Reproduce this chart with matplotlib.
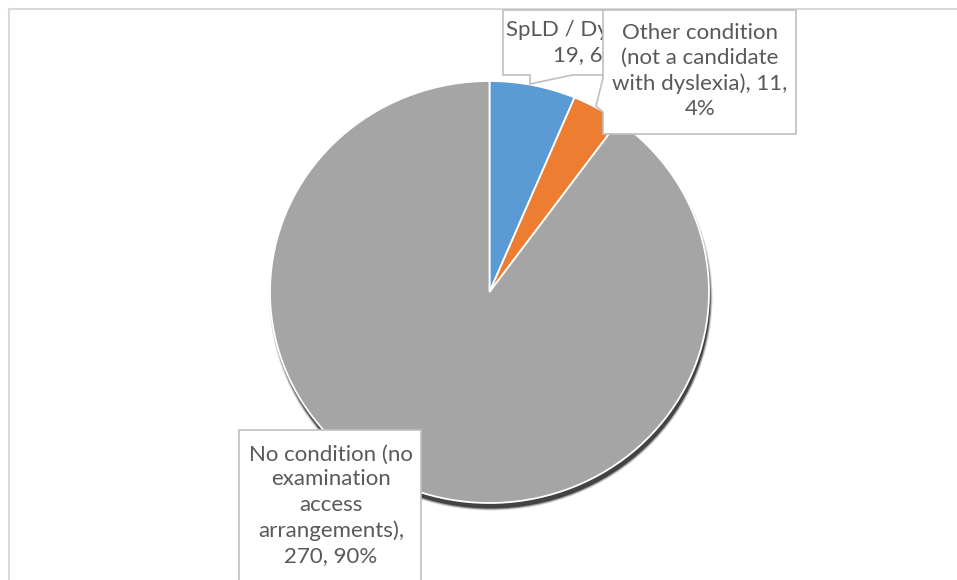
import numpy as np
import matplotlib.pyplot as plt
from matplotlib.patches import Polygon, Ellipse

# data
labels = ["SpLD / Dyslexia", "Other condition (not a candidate with dyslexia)",
          "No condition (no examination access arrangements)"]
counts = [19, 11, 270]
percents = ["6%", "4%", "90%"]
colors = ["#5B9BD5", "#ED7D31", "#A5A5A5"]

# text of the data labels, wrapped as in the picture
label_text = [
    "SpLD / Dyslexia,\n%d, %s" % (counts[0], percents[0]),
    "Other condition\n(not a candidate\nwith dyslexia), %d,\n%s" % (counts[1], percents[1]),
    "No condition (no\nexamination\naccess\narrangements),\n%d, %s" % (counts[2], percents[2]),
]

W, H = 957, 580
plt.rcParams['font.family'] = ['Lato', 'DejaVu Sans']

fig = plt.figure(figsize=(W / 100, H / 100), dpi=100)

# pie axes (pie is slightly squashed vertically, as in the picture)
left, top, right, bottom = 270, 81, 709, 503
pax = fig.add_axes([left / W, (H - bottom) / H, (right - left) / W, (bottom - top) / H])
pax.set_zorder(1)
rx_px = (right - left) / 2
ry_px = (bottom - top) / 2

# shadow under the pie, shifted down and a little to the right
sx, sy = 1.5 / rx_px, 5.5 / ry_px
for grow, a in [(2.0, 0.2), (1.0, 0.4), (0.0, 0.9)]:
    pax.add_patch(Ellipse((sx, -sy), 2.0 + 2 * grow / rx_px, 2.0 + 2 * grow / ry_px,
                          color="#3a3a3a", alpha=a, lw=0, zorder=1, clip_on=False))

pax.pie(counts, colors=colors, startangle=90, counterclock=False, radius=1,
        wedgeprops=dict(edgecolor="white", linewidth=1.3, zorder=2, clip_on=False))
pax.set_xlim(-1, 1)
pax.set_ylim(-1, 1)
pax.set_aspect("auto")
pax.axis("off")

# overlay axes in pixel units for border and labels
ax = fig.add_axes([0, 0, 1, 1])
ax.set_zorder(2)
ax.patch.set_visible(False)

def py(y):
    # pixel row -> data y
    return H - y

# chart border (only top and left are visible in the crop)
ax.plot([9, W], [py(9), py(9)], color="#d9d9d9", lw=1.5, zorder=0)
ax.plot([9, 9], [py(9), 0], color="#d9d9d9", lw=1.5, zorder=0)

box_style = dict(facecolor="white", edgecolor="#bfbfbf", lw=1.2)
txt_style = dict(color="#595959", fontsize=16, ha="center", va="center",
                 linespacing=1.32)

# SpLD label (partly covered by the next one)
pts = [(503, 10), (503, 75), (530, 75), (530, 84), (572, 75), (675, 75), (675, 10)]
ax.add_patch(Polygon([(x, py(y)) for x, y in pts], closed=True, zorder=5, **box_style))
ax.text(587, py(43), label_text[0], zorder=6, **txt_style)

# Other condition label
pts = [(603, 10), (796, 10), (796, 134), (603, 134), (603, 112), (596, 106), (603, 78)]
ax.add_patch(Polygon([(x, py(y)) for x, y in pts], closed=True, zorder=7, **box_style))
ax.text(700, py(71), label_text[1], zorder=8, **txt_style)

# No condition label
pts = [(239, 430), (421, 430), (421, 600), (239, 600)]
ax.add_patch(Polygon([(x, py(y)) for x, y in pts], closed=True, zorder=7, **box_style))
ax.text(331, py(505), label_text[2], zorder=8, **txt_style)

ax.set_xlim(0, W)
ax.set_ylim(0, H)
ax.axis("off")

fig.savefig("out.png", dpi=100)
